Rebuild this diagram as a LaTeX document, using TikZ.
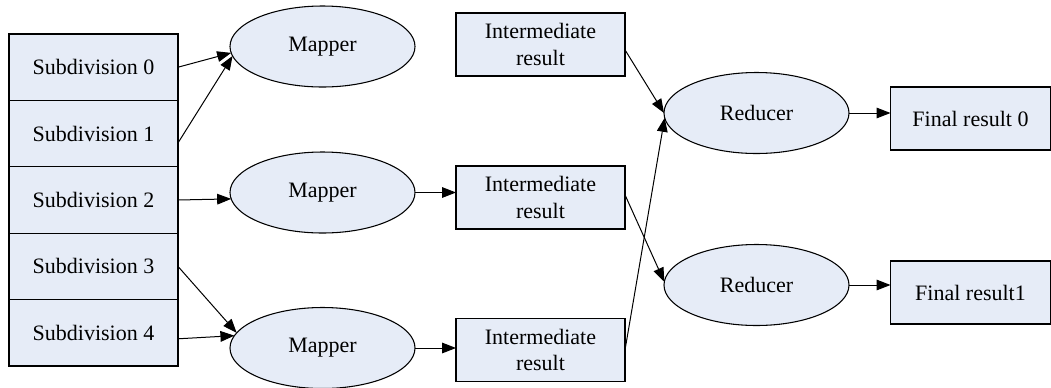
\documentclass[tikz,border=0pt]{standalone}
\usepackage{fontspec}
\setmainfont{Liberation Serif}
\usetikzlibrary{arrows.meta,shapes.geometric}
\definecolor{nodefill}{RGB}{230,236,247}
\begin{document}
\begin{tikzpicture}[x=0.75pt,y=-0.75pt,
  every node/.style={font=\fontsize{16.5}{20}\selectfont},
  cell/.style={draw, fill=nodefill, line width=0.8pt, minimum width=126.75pt, minimum height=49.8pt, inner sep=0pt, outer sep=0pt},
  ell/.style={ellipse, draw, fill=nodefill, line width=0.8pt, minimum width=138.75pt, minimum height=60.75pt, inner sep=0pt, outer sep=0pt},
  box/.style={draw, fill=nodefill, line width=0.8pt, minimum width=126.75pt, minimum height=47.25pt, inner sep=0pt, outer sep=0pt, align=center},
  fbox/.style={box, minimum width=120pt},
  arr/.style={-{Triangle[length=10.5pt,width=8pt]}, line width=0.75pt}]
\useasboundingbox (0,0) rectangle (1051,387);
% subdivision stack
\node[cell] (s0) at (93.5,67.2) {Subdivision 0};
\node[cell] (s1) at (93.5,133.6) {Subdivision 1};
\node[cell] (s2) at (93.5,200) {Subdivision 2};
\node[cell] (s3) at (93.5,266.4) {Subdivision 3};
\node[cell] (s4) at (93.5,332.8) {Subdivision 4};
% mappers
\node[ell] (m1) at (322.5,46.5) {Mapper};
\node[ell] (m2) at (322.5,192.5) {Mapper};
\node[ell] (m3) at (322.5,348) {Mapper};
% intermediate results
\node[box] (ir1) at (540.5,44.5) {Intermediate\\result};
\node[box] (ir2) at (540.5,197.5) {Intermediate\\result};
\node[box] (ir3) at (540.5,350) {Intermediate\\result};
% reducers
\node[ell] (r1) at (756.5,113) {Reducer};
\node[ell] (r2) at (756.5,285) {Reducer};
% finals
\node[fbox] (f0) at (970.5,118.5) {Final result 0};
\node[fbox] (f1) at (970.5,292.5) {Final result1};
% edges
\draw[arr] (s0.east) -- (m1.184);
\draw[arr] ([yshift=-7pt]s1.east) -- (m1.186);
\draw[arr] (s2.east) -- (m2.184);
\draw[arr] (s3.east) -- (m3.170);
\draw[arr] ([yshift=-4.5pt]s4.east) -- (m3.172);
\draw[arr] (m2.east) -- (m2.east -| ir2.west);
\draw[arr] (m3.east) -- (m3.east -| ir3.west);
\draw[arr] ([yshift=-4pt]ir1.east) -- (r1.west);
\draw[arr] ([yshift=2pt]ir2.east) -- (r2.178);
\draw[arr] (ir3.east) -- (r1.183);
\draw[arr] (r1.east) -- (r1.east -| f0.west);
\draw[arr] (r2.east) -- (r2.east -| f1.west);
\end{tikzpicture}
\end{document}
